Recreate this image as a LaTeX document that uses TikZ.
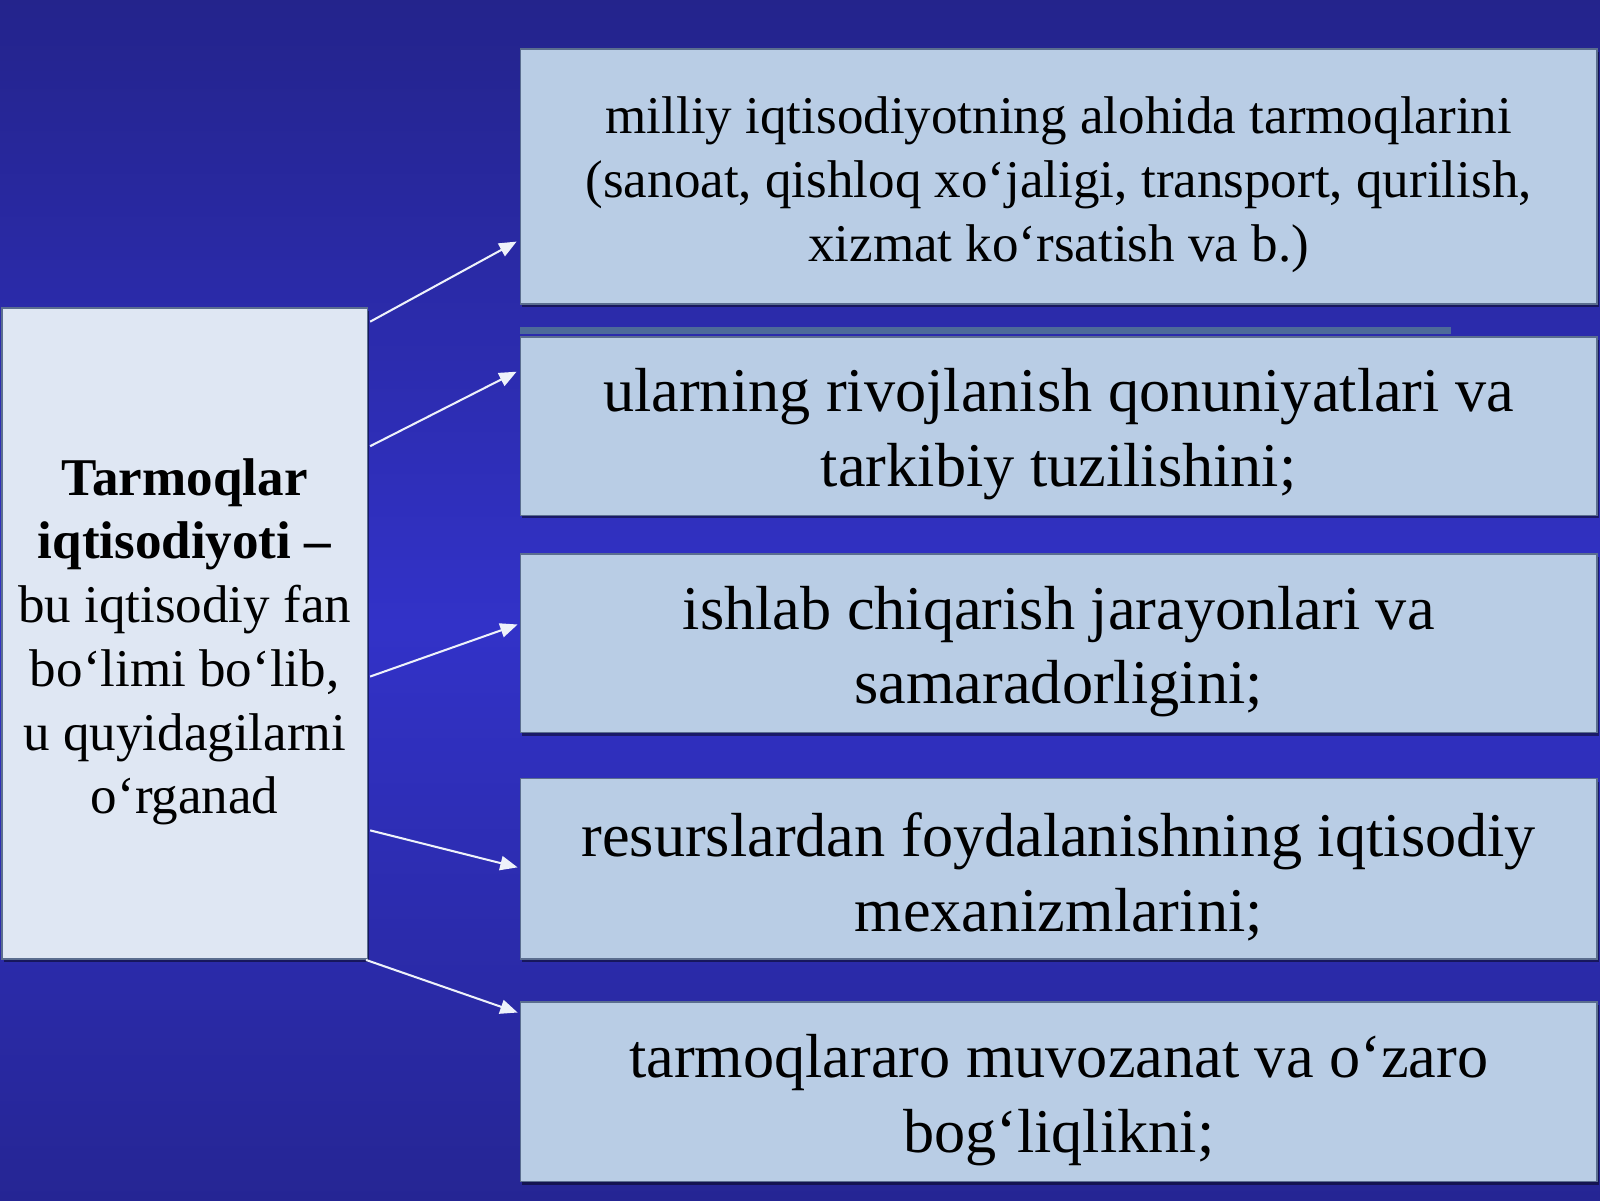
\documentclass[tikz,border=0pt]{standalone}
\usepackage{fontspec}
\setmainfont{Liberation Serif}
\usetikzlibrary{arrows.meta,calc,shadows}
\definecolor{bgA}{HTML}{1A185E}
\definecolor{bgB}{HTML}{24248E}
\definecolor{bgC}{HTML}{3232C8}
\definecolor{bgD}{HTML}{20207E}
\definecolor{bgE}{HTML}{1A1A62}
\definecolor{boxfill}{HTML}{B9CDE5}
\definecolor{leftfill}{HTML}{DFE7F3}
\definecolor{boxline}{HTML}{5B6E8F}
\definecolor{barcol}{HTML}{4D6A99}
\definecolor{arrcol}{HTML}{EEF2FA}
\pgfdeclareverticalshading{bgshade}{100bp}{color(0bp)=(bgE); color(15bp)=(bgD); color(49bp)=(bgC); color(74bp)=(bgB); color(100bp)=(bgA)}
\tikzset{
  rbox/.style={draw=boxline, line width=1.5pt, fill=boxfill, minimum width=1055pt, inner sep=0pt,
    drop shadow={shadow xshift=2pt, shadow yshift=-3pt, opacity=0.45, fill=black}},
  lbox/.style={draw=boxline, line width=1.5pt, fill=leftfill, minimum width=358pt, minimum height=638pt, inner sep=0pt,
    drop shadow={shadow xshift=2pt, shadow yshift=-3pt, opacity=0.45, fill=black}},
  txt/.style={inner sep=0pt, align=center, yshift=-8pt},
  bigtext/.style={txt, font=\fontsize{61}{73}\selectfont},
  midtext/.style={txt, font=\fontsize{52}{62.5}\selectfont},
  arr/.style={draw=arrcol, line width=2pt, -{Triangle[length=17pt,width=14pt]}}
}
\begin{document}
\begin{tikzpicture}[x=1pt,y=-1pt]
\useasboundingbox (0,0) rectangle (1568,1176);
\shade[shading=bgshade] (0,0) rectangle (1568,1176);
% thin bar
\fill[barcol] (510,320) rectangle (1422,327);
\node[rbox, minimum height=250pt] (R1) at (1037.5,173) {};
\node[rbox, minimum height=175pt] (R2) at (1037.5,417.5) {};
\node[rbox, minimum height=175pt] (R3) at (1037.5,630.5) {};
\node[rbox, minimum height=177pt] (R4) at (1037.5,851.5) {};
\node[rbox, minimum height=176pt] (R5) at (1037.5,1070) {};
\node[lbox] (L) at (181,621) {};
\node[midtext] (T1) at (R1.center)
  {milliy iqtisodiyotning alohida tarmoqlarini\\(sanoat, qishloq xo‘jaligi, transport, qurilish,\\xizmat ko‘rsatish va b.)};
\node[bigtext] (T2) at (R2.center)
  {ularning rivojlanish qonuniyatlari va\\tarkibiy tuzilishini;};
\node[bigtext] (T3) at (R3.center)
  {ishlab chiqarish jarayonlari va\\samaradorligini;};
\node[bigtext] (T4) at (R4.center)
  {resurslardan foydalanishning iqtisodiy\\mexanizmlarini;};
\node[bigtext] (T5) at (R5.center)
  {tarmoqlararo muvozanat va o‘zaro\\bog‘liqlikni;};
\node[midtext] (TL) at (L.center)
  {\textbf{Tarmoqlar}\\\textbf{iqtisodiyoti –}\\bu iqtisodiy fan\\bo‘limi bo‘lib,\\u quyidagilarni\\o‘rganad};
\draw[arr] ($(L.north east)+(2,14)$) -- ($(R1.south west)+(-3,-62)$);
\draw[arr] ($(L.north east)+(2,136)$) -- ($(R2.north west)+(-3,35)$);
\draw[arr] ($(L.east)+(2,42)$) -- ($(R3.west)+(-2,-18.5)$);
\draw[arr] ($(L.south east)+(2,-127)$) -- ($(R4.west)+(-2,-1.5)$);
\draw[arr] ($(L.south east)+(-2,0)$) -- ($(R5.north west)+(-2,11)$);
\end{tikzpicture}
\end{document}
